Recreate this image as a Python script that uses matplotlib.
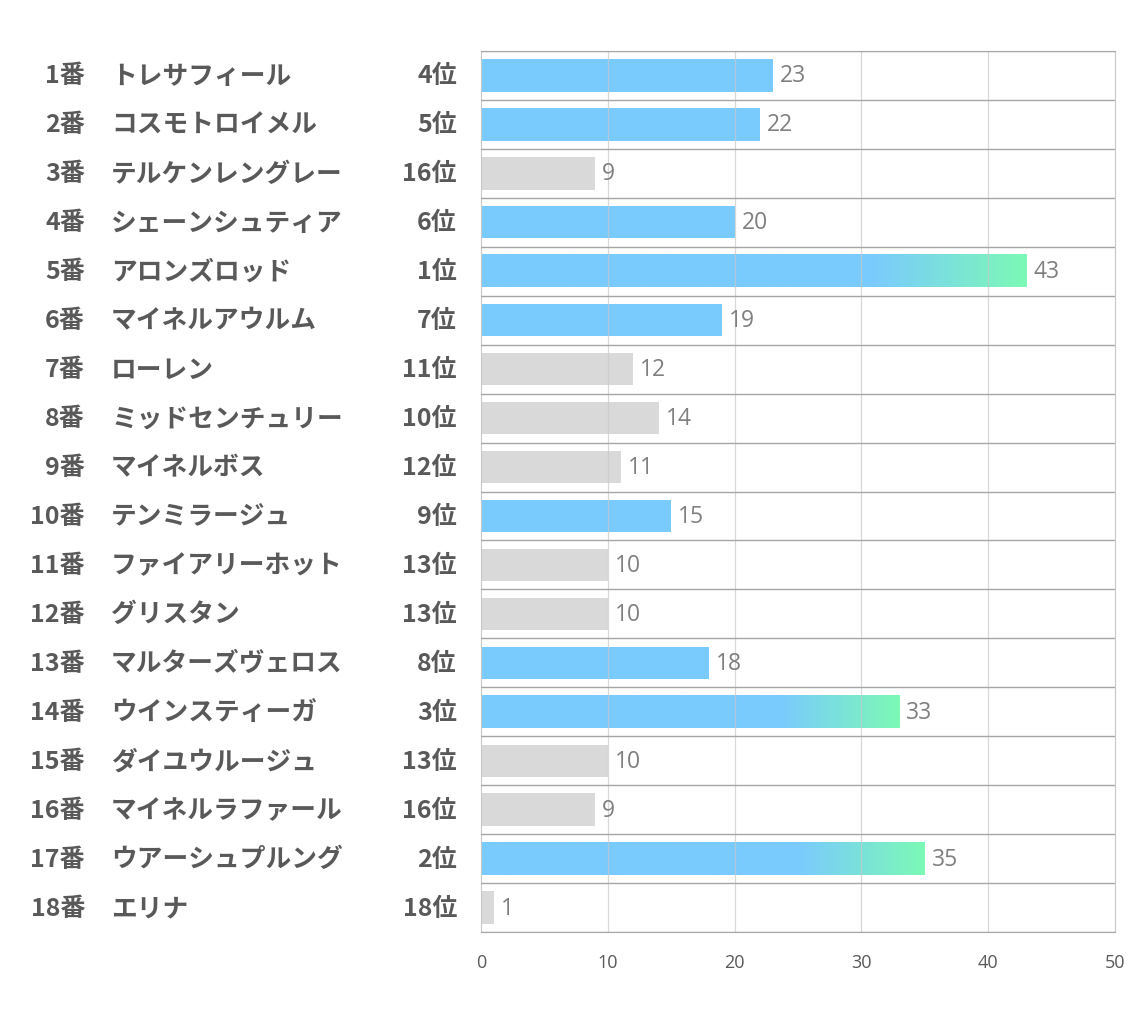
import matplotlib
matplotlib.use("Agg")
import matplotlib.pyplot as plt
import numpy as np
from matplotlib.colors import LinearSegmentedColormap

plt.rcParams["font.family"] = ["Noto Sans CJK JP", "DejaVu Sans"]

NUMBERS = ["1番", "2番", "3番", "4番", "5番", "6番", "7番", "8番", "9番",
           "10番", "11番", "12番", "13番", "14番", "15番", "16番", "17番", "18番"]
NAMES = ["トレサフィール", "コスモトロイメル", "テルケンレングレー", "シェーンシュティア",
         "アロンズロッド", "マイネルアウルム", "ローレン", "ミッドセンチュリー",
         "マイネルボス", "テンミラージュ", "ファイアリーホット", "グリスタン",
         "マルターズヴェロス", "ウインスティーガ", "ダイユウルージュ",
         "マイネルラファール", "ウアーシュプルング", "エリナ"]
RANKS = [4, 5, 16, 6, 1, 7, 11, 10, 12, 9, 13, 13, 8, 3, 13, 16, 2, 18]
VALUES = [23, 22, 9, 20, 43, 19, 12, 14, 11, 15, 10, 10, 18, 33, 10, 9, 35, 1]
X_TICKS = [0, 10, 20, 30, 40, 50]

C_BLUE = "#7acbfd"
C_GREEN = "#7cf9b6"
C_GRAY = "#d9d9d9"
C_TEXT = "#595959"
C_VAL = "#7f7f7f"

fig = plt.figure(figsize=(11.34, 10.2), dpi=100)
ax = fig.add_axes([0.4242, 0.0853, 0.559, 0.8637])

n = len(VALUES)
y = np.arange(n)
bar_h = 0.66
colors = [C_BLUE if r <= 9 else C_GRAY for r in RANKS]
ax.barh(y, VALUES, height=bar_h, color=colors, zorder=2)

# gradient fade to green on the top three
grad_start = 0.72
cmap = LinearSegmentedColormap.from_list(
    "bg", [(0, C_BLUE), (grad_start, C_BLUE), (1, C_GREEN)])
grad = np.linspace(0, 1, 512).reshape(1, -1)
for i, (v, r) in enumerate(zip(VALUES, RANKS)):
    if r <= 3:
        ax.imshow(grad, cmap=cmap, aspect="auto", interpolation="bilinear",
                  extent=[0, v, i + bar_h / 2, i - bar_h / 2], zorder=2.5)

ax.set_xlim(0, 50)
ax.set_ylim(n - 0.5, -0.5)

for xv in X_TICKS[1:-1]:
    ax.axvline(xv, color="#c8c8c8", lw=0.9, alpha=0.7, zorder=3)
for b in np.arange(-0.5, n, 1.0):
    ax.axhline(b, color="#a6a6a6", lw=1.0, zorder=3)

for s in ["left", "right"]:
    ax.spines[s].set_color("#c8c8c8")
for s in ["top", "bottom"]:
    ax.spines[s].set_color("#a6a6a6")

ax.set_xticks(X_TICKS)
ax.set_xticklabels([str(t) for t in X_TICKS], fontsize=13, color=C_TEXT,
                   family=["Open Sans", "DejaVu Sans"])
ax.tick_params(axis="x", length=0, pad=15)
ax.set_yticks([])

for i, v in enumerate(VALUES):
    ax.annotate(str(v), (v, i), xytext=(5, 0), textcoords="offset points",
                va="center", ha="left", fontsize=16.5, color=C_VAL,
                family=["Open Sans", "DejaVu Sans"])

# left-hand labels
for i in range(n):
    yy = ax.transData.transform((0, i))[1]
    yf = fig.transFigure.inverted().transform((0, yy))[1]
    fig.text(85 / 1134, yf, NUMBERS[i], ha="right", va="center",
             fontsize=18, fontweight="bold", color=C_TEXT)
    fig.text(111 / 1134, yf, NAMES[i], ha="left", va="center",
             fontsize=18.5, fontweight="bold", color=C_TEXT)
    fig.text(457 / 1134, yf, f"{RANKS[i]}位", ha="right", va="center",
             fontsize=18, fontweight="bold", color=C_TEXT)

fig.savefig("out.png", dpi=100, facecolor="white")
